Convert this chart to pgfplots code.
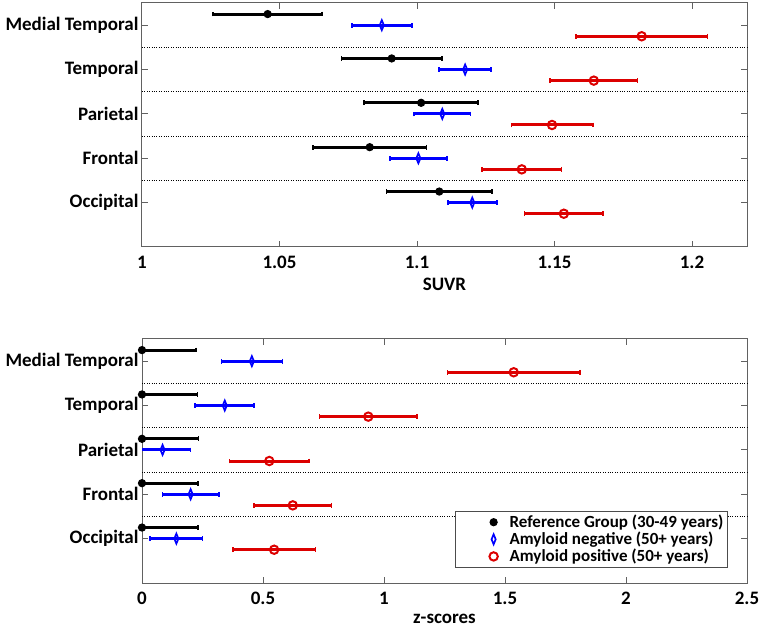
\documentclass[border=0pt]{standalone}
\usepackage{pgfplots}
\pgfplotsset{compat=1.18}
\usepackage{pgfplotstable}
\usepackage{fontspec}
\setmainfont{Carlito}

\pgfplotstableread{
y x e
5.25 1.0457 0.0198
4.25 1.0908 0.0182
3.25 1.1015 0.0207
2.25 1.0828 0.0207
1.25 1.1081 0.0192
}\suvrref
\pgfplotstableread{
y x e
5 1.0872 0.0109
4 1.1175 0.0095
3 1.1092 0.0103
2 1.1005 0.0104
1 1.1201 0.0089
}\suvrneg
\pgfplotstableread{
y x e
4.75 1.1817 0.0239
3.75 1.1643 0.0159
2.75 1.1491 0.0148
1.75 1.1381 0.0144
0.75 1.1534 0.0143
}\suvrpos
\pgfplotstableread{
y x e
5.25 0 0.222
4.25 0 0.230
3.25 0 0.234
2.25 0 0.232
1.25 0 0.232
}\zref
\pgfplotstableread{
y x e
5 0.454 0.126
4 0.342 0.122
3 0.085 0.116
2 0.201 0.116
1 0.142 0.108
}\zneg
\pgfplotstableread{
y x e
4.75 1.536 0.274
3.75 0.935 0.201
2.75 0.526 0.164
1.75 0.623 0.160
0.75 0.546 0.171
}\zpos

\definecolor{myred}{RGB}{220,0,0}

\pgfplotsset{
 mystyle/.style={
  width=605pt, height=244pt, scale only axis,
  ymin=0, ymax=5.5,
  ytick={1,2,3,4,5},
  yticklabels={Occipital,Frontal,Parietal,Temporal,Medial Temporal},
  tick align=inside,
  major tick length=6pt,
  axis line style={black!62, line width=1pt},
  tick style={black!62, line width=1pt},
  ticklabel style={font=\fontsize{19}{20}\selectfont\bfseries, text=black},
  xticklabel style={yshift=-6pt},
  xlabel style={font=\fontsize{19}{20}\selectfont\bfseries, yshift=-2pt},
  /pgf/number format/assume math mode=true,
  extra y ticks={1.5,2.5,3.5,4.5},
  extra y tick labels={},
  extra y tick style={grid=major, major grid style={black, dotted, line width=1pt}, major tick length=0pt},
  legend image code/.code={\path[draw=none] (-12pt,0pt) -- (38pt,0pt); \path[##1, draw=none] plot coordinates {(24pt,0pt)};},
 },
 refst/.style={only marks, black, mark=*, mark size=3.6pt, mark options={fill=black, draw=black, line width=1pt},
   error bars/.cd, x dir=both, x explicit,
   error bar style={line width=3pt, black},
   error mark options={line width=1.6pt, mark size=2.4pt, rotate=90, black}},
 negst/.style={only marks, blue, mark=diamond, mark size=5pt, mark options={xscale=0.55, line width=1.7pt, fill=white, draw=blue},
   error bars/.cd, x dir=both, x explicit,
   error bar style={line width=3pt, blue},
   error mark options={line width=1.6pt, mark size=2.4pt, rotate=90, blue}},
 posst/.style={only marks, myred, mark=o, mark size=4.2pt, mark options={line width=2pt, draw=myred, fill=white},
   error bars/.cd, x dir=both, x explicit,
   error bar style={line width=3pt, myred},
   error mark options={line width=1.6pt, mark size=2.4pt, rotate=90, myred}},
}

\begin{document}
\begin{tikzpicture}
\path[use as bounding box] (0pt,0pt) rectangle (761pt,-628pt);
\begin{axis}[mystyle, at={(142pt,-3pt)}, anchor=north west,
  xmin=1, xmax=1.22,
  xtick={1,1.05,1.1,1.15,1.2},
  xticklabels={1,1.05,1.1,1.15,1.2},
  xlabel={SUVR}]
\addplot[refst] table[x=x,y=y,x error=e] {\suvrref};
\addplot[negst] table[x=x,y=y,x error=e] {\suvrneg};
\addplot[posst] table[x=x,y=y,x error=e] {\suvrpos};
\end{axis}
\begin{axis}[mystyle, at={(142pt,-339pt)}, anchor=north west,
  xmin=0, xmax=2.5,
  xtick={0,0.5,1,1.5,2,2.5},
  xticklabels={0,0.5,1,1.5,2,2.5},
  xlabel={z-scores},
  legend style={at={(0.9686,0.0615)}, anchor=south east, draw=black!70, line width=1pt,
    font=\fontsize{17}{18}\selectfont\bfseries, row sep=-1pt, inner sep=2pt},
  legend cell align=left]
\addplot[refst] table[x=x,y=y,x error=e] {\zref};
\addplot[negst] table[x=x,y=y,x error=e] {\zneg};
\addplot[posst] table[x=x,y=y,x error=e] {\zpos};
\legend{Reference Group (30-49 years),Amyloid negative (50+ years),Amyloid positive (50+ years)}
\end{axis}
\end{tikzpicture}
\end{document}
